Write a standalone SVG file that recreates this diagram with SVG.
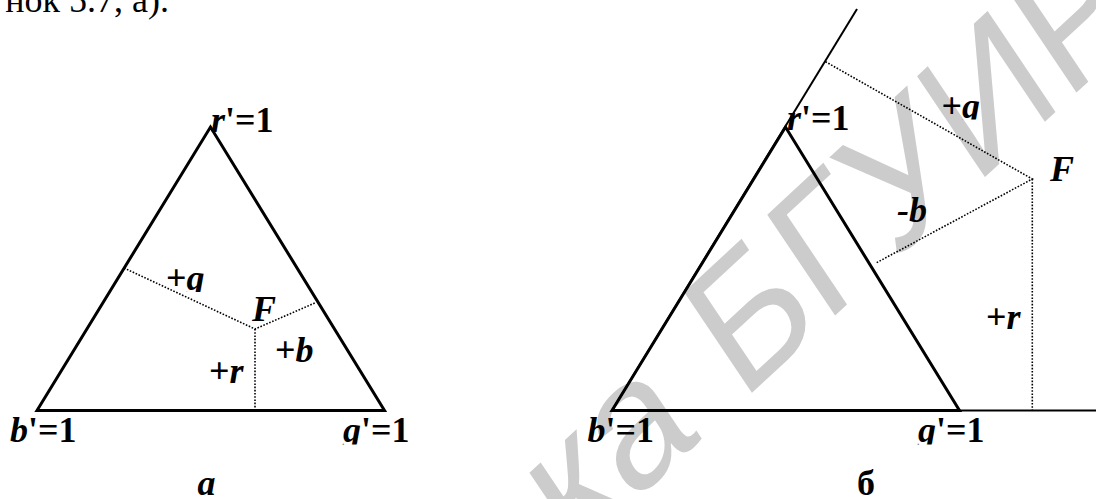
<svg xmlns="http://www.w3.org/2000/svg" width="1096" height="499" viewBox="0 0 1096 499">
<style>
.t{font-family:"Liberation Serif","Times New Roman",serif;font-size:36px;font-weight:bold;fill:#000}
.i{font-style:italic}
.thick{fill:none;stroke:#000;stroke-width:3;stroke-linejoin:miter}
.thin{fill:none;stroke:#000;stroke-width:2}
.dot{fill:none;stroke:#000;stroke-width:1.6;stroke-dasharray:1.6 1.6}
.wm{font-family:"Liberation Sans",Arial,sans-serif;font-size:168px;fill:#cccccc}
.cap{font-family:"Liberation Serif","Times New Roman",serif;font-size:36px;fill:#000}
</style>
<defs>
<clipPath id="c1"><rect x="150" y="250" width="80" height="42"/></clipPath>
<clipPath id="c2"><rect x="330" y="400" width="100" height="44.5"/></clipPath>
<clipPath id="c3"><rect x="930" y="80" width="70" height="39.5"/></clipPath>
<clipPath id="c4"><rect x="900" y="400" width="100" height="44.5"/></clipPath>
</defs>
<rect width="1096" height="499" fill="#fff"/>
<g id="watermark">
<text class="wm" transform="matrix(0.757 -0.700 0.587 0.873 741.4 402.4)" text-anchor="end"><tspan x="-52">Библиотека</tspan><tspan x="0" text-anchor="start">БГУИР</tspan></text>
</g>
<text id="caption-top" class="cap" x="169" y="12" text-anchor="end">нок 5.7, а).</text>
<g id="triangle-a"><polygon class="thick" points="37,410.5 210.5,127 384.5,410.5"/></g>
<g id="triangle-b">
<line class="thin" x1="612" y1="410.5" x2="857" y2="9"/>
<line class="thin" x1="959.5" y1="410.5" x2="1096" y2="410.5"/>
<polygon class="thick" points="612,410.5 785.5,127 959.5,410.5"/>
</g>
<g id="connectors">
<polyline class="dot" points="124,268 255,329 316,302.5"/>
<line class="dot" x1="255" y1="329" x2="255" y2="410.5"/>
<polyline class="dot" points="825.5,61.7 1032.3,179 876,263"/>
<line class="dot" x1="1032.3" y1="179" x2="1032.3" y2="410.5"/>
</g>
<g id="labels-a">
<text id="a-r" class="t" x="211" y="132"><tspan class="i">r</tspan>'=1</text>
<text id="a-g" class="t" x="166" y="290" clip-path="url(#c1)">+<tspan class="i">g</tspan></text>
<text id="a-F" class="t i" x="252" y="321">F</text>
<text id="a-b" class="t" x="275" y="362">+<tspan class="i">b</tspan></text>
<text id="a-rr" class="t" x="209" y="383">+<tspan class="i">r</tspan></text>
<text id="a-bv" class="t" x="10" y="442"><tspan class="i">b</tspan>'=1</text>
<text id="a-gv" class="t" x="343" y="442" clip-path="url(#c2)"><tspan class="i">g</tspan>'=1</text>
<text id="a-cap" class="t i" x="206.5" y="495" text-anchor="middle">a</text>
</g>
<g id="labels-b">
<text id="b-r" class="t" x="787" y="130"><tspan class="i">r</tspan>'=1</text>
<text id="b-g" class="t" x="941.5" y="117.5" clip-path="url(#c3)">+<tspan class="i">g</tspan></text>
<text id="b-F" class="t i" x="1050" y="181">F</text>
<text id="b-b" class="t i" x="897" y="222">-b</text>
<text id="b-rr" class="t" x="986" y="328.5">+<tspan class="i">r</tspan></text>
<text id="b-bv" class="t" x="587.5" y="442"><tspan class="i">b</tspan>'=1</text>
<text id="b-gv" class="t" x="918" y="442" clip-path="url(#c4)"><tspan class="i">g</tspan>'=1</text>
<text id="b-cap" class="t" x="866" y="495" text-anchor="middle">б</text>
</g>
</svg>
